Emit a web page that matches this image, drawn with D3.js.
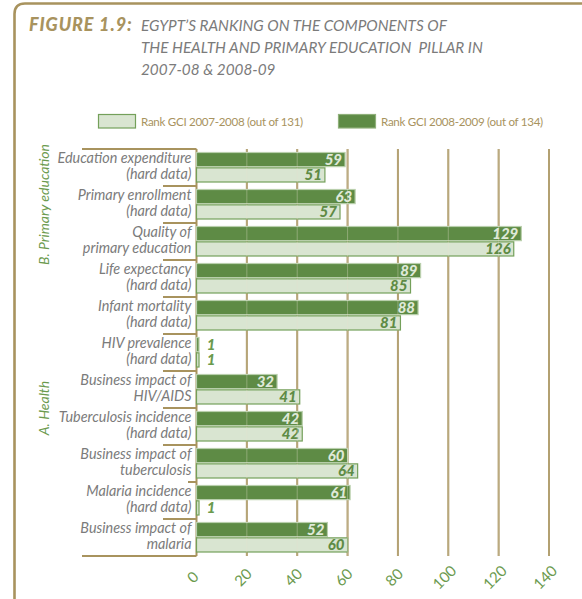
<!DOCTYPE html>
<html>
<head>
<meta charset="utf-8">
<script src="https://cdn.jsdelivr.net/npm/d3@7"></script>
<style>
  html, body { margin: 0; padding: 0; background: #fff; }
  svg { display: block; }
</style>
</head>
<body>
<svg id="chart" width="582" height="599"></svg>
<script>
// Components of the health and primary education pillar
const categories = [
  ["Education expenditure", "(hard data)"],
  ["Primary enrollment", "(hard data)"],
  ["Quality of", "primary education"],
  ["Life expectancy", "(hard data)"],
  ["Infant mortality", "(hard data)"],
  ["HIV prevalence", "(hard data)"],
  ["Business impact of", "HIV/AIDS"],
  ["Tuberculosis incidence", "(hard data)"],
  ["Business impact of", "tuberculosis"],
  ["Malaria incidence", "(hard data)"],
  ["Business impact of", "malaria"]
];
// Rank GCI 2008-2009 (out of 134)
const rank0809 = [59, 63, 129, 89, 88, 1, 32, 42, 60, 61, 52];
// Rank GCI 2007-2008 (out of 131)
const rank0708 = [51, 57, 126, 85, 81, 1, 41, 42, 64, 1, 60];
const seriesNames = ["Rank GCI 2007-2008 (out of 131)", "Rank GCI 2008-2009 (out of 134)"];
const xTicks = [0, 20, 40, 60, 80, 100, 120, 140];
const pillars = [
  { name: "B. Primary education", first: 0, last: 2 },
  { name: "A. Health", first: 3, last: 10 }
];

const TAN = "#a8935e", GRAY = "#7b7b7b", GREEN = "#6b9a4e";
const DARK = "#5e8b45", LIGHT = "#d9e5d1", LIGHT_EDGE = "#74a05a";
const FONT = "Lato, 'Open Sans', sans-serif";

const svg = d3.select("#chart");

// Frame with rounded top-left corner
svg.append("path")
  .attr("d", "M14.5,600 L14.5,14 Q14.5,3.5 25,3.5 L590,3.5")
  .attr("fill", "none").attr("stroke", TAN).attr("stroke-width", 2.6);

// Title
const title = svg.append("g").attr("font-family", FONT).attr("font-style", "italic");
title.append("text").attr("x", 29).attr("y", 31)
  .attr("font-size", 18).attr("font-weight", 900).attr("fill", TAN)
  .attr("letter-spacing", 0.9)
  .text("FIGURE 1.9:");
["EGYPT\u2019S RANKING ON THE COMPONENTS OF",
 "THE HEALTH AND PRIMARY EDUCATION  PILLAR IN",
 "2007-08 & 2008-09"].forEach((t, i) => {
  title.append("text").attr("x", 141).attr("y", 31 + i * 22)
    .attr("font-size", 15.3).attr("fill", GRAY)
    .style("white-space", "pre")
    .text(t);
});

// Scales
const x = d3.scaleLinear().domain([0, 140]).range([196.5, 549]);
const y = d3.scaleBand().domain(d3.range(categories.length)).range([149, 556]);
const inner = d3.scaleBand().domain(["0809", "0708"]).range([3.5, 33]).paddingInner(0.08);

// Legend
const legend = svg.append("g").attr("font-family", FONT).attr("font-size", 11.6)
  .attr("letter-spacing", -0.3).attr("fill", TAN);
[{ x0: 98, fill: LIGHT, stroke: LIGHT_EDGE, label: seriesNames[0] },
 { x0: 338, fill: DARK, stroke: "#8fb07a", label: seriesNames[1] }].forEach(d => {
  legend.append("rect").attr("x", d.x0 + 0.5).attr("y", 114.5).attr("width", 37).attr("height", 13.5)
    .attr("fill", d.fill).attr("stroke", d.stroke).attr("stroke-width", 1.2);
  legend.append("text").attr("x", d.x0 + 43).attr("y", 126).text(d.label);
});

// Vertical grid lines (behind bars)
const grid = svg.append("g");
grid.selectAll("line").data(xTicks).join("line")
  .attr("x1", d => x(d)).attr("x2", d => x(d))
  .attr("y1", 149).attr("y2", 556)
  .attr("stroke", TAN).attr("stroke-width", 2);

// Bars
const rows = svg.append("g").selectAll("g").data(categories).join("g")
  .attr("transform", (d, i) => `translate(0,${y(i)})`);

const barSpec = [
  { key: "0809", vals: rank0809, fill: DARK, stroke: "#b9cfac", textFill: "#dfe9d8" },
  { key: "0708", vals: rank0708, fill: LIGHT, stroke: LIGHT_EDGE, textFill: DARK }
];

barSpec.forEach(s => {
  rows.append("rect")
    .attr("x", x(0))
    .attr("y", inner(s.key))
    .attr("width", (d, i) => Math.max(x(s.vals[i]) - x(0), 2))
    .attr("height", inner.bandwidth())
    .attr("fill", s.fill).attr("stroke", s.stroke).attr("stroke-width", 1.2);
});

// Faint grid lines drawn over the bars
svg.append("g").selectAll("line").data(xTicks.slice(1)).join("line")
  .attr("x1", d => x(d)).attr("x2", d => x(d))
  .attr("y1", 149).attr("y2", 556)
  .attr("stroke", "#e8e2cf").attr("stroke-width", 1).attr("opacity", 0.35);

// Value labels
barSpec.forEach(s => {
  rows.append("text")
    .attr("font-family", FONT).attr("font-style", "italic").attr("font-weight", 900)
    .attr("font-size", 15)
    .attr("y", inner(s.key) + inner.bandwidth() - 1.6)
    .attr("x", (d, i) => s.vals[i] < 10 ? x(s.vals[i]) + 12 : x(s.vals[i]) - 3)
    .attr("text-anchor", (d, i) => s.vals[i] < 10 ? "middle" : "end")
    .attr("fill", (d, i) => s.vals[i] < 10 ? GREEN : s.textFill)
    .text((d, i) => s.vals[i]);
});

// Category labels
rows.each(function (d) {
  const g = d3.select(this);
  d.forEach((line, j) => {
    g.append("text")
      .attr("x", 191.5).attr("y", 14 + j * 16)
      .attr("text-anchor", "end")
      .attr("font-family", FONT).attr("font-style", "italic")
      .attr("font-size", 14.4).attr("fill", GRAY)
      .text(line);
  });
});

// Row separators on the label side
const sep = svg.append("g").attr("stroke", TAN).attr("stroke-width", 2);
d3.range(categories.length + 1).forEach(i => {
  const yy = i === categories.length ? 556 : y(i);
  let x0 = 163;
  if (i === 0 || i === categories.length) x0 = 82;
  if (i === 9) x0 = 188;
  sep.append("line").attr("x1", x0).attr("x2", x(0)).attr("y1", yy).attr("y2", yy);
});

// Pillar labels
pillars.forEach(p => {
  const cy = (y(p.first) + y(p.last) + y.bandwidth()) / 2;
  svg.append("text")
    .attr("transform", `translate(49,${cy}) rotate(-90)`)
    .attr("text-anchor", "middle")
    .attr("font-family", FONT).attr("font-style", "italic")
    .attr("font-size", 14).attr("fill", GREEN)
    .text(p.name);
});

// X axis tick labels, rotated
svg.append("g").selectAll("text").data(xTicks).join("text")
  .attr("transform", d => `translate(${x(d)},${581}) rotate(-45)`)
  .attr("text-anchor", "middle")
  .attr("font-family", FONT).attr("font-size", 15).attr("fill", GREEN)
  .text(d => d);
</script>
</body>
</html>
